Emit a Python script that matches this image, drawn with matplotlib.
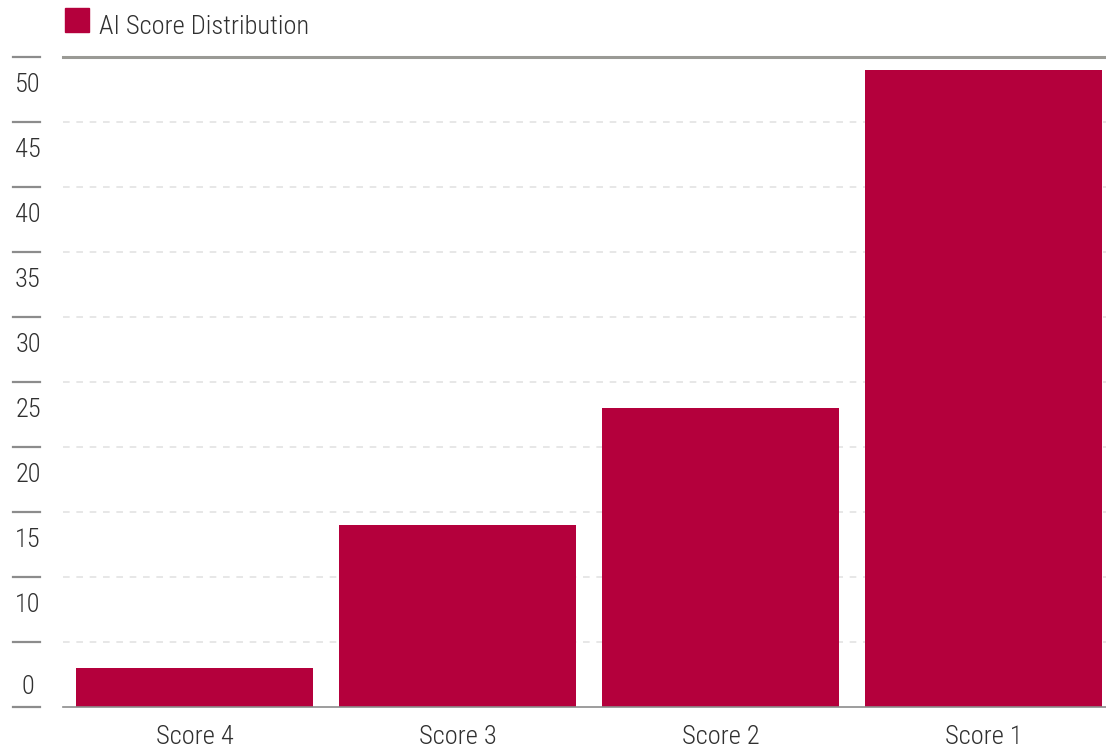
import matplotlib
matplotlib.use('Agg')
import matplotlib.pyplot as plt
from matplotlib.transforms import blended_transform_factory, offset_copy
from matplotlib import font_manager

categories = ['Score 4', 'Score 3', 'Score 2', 'Score 1']
values = [3, 14, 23, 49]
tick_values = [0, 5, 10, 15, 20, 25, 30, 35, 40, 45, 50]
label_values = [0, 10, 15, 20, 25, 30, 35, 40, 45, 50]
series_name = 'AI Score Distribution'

bar_color = '#B4003C'
text_color = '#303030'

# condensed light face, closest to the original look
names = {f.name for f in font_manager.fontManager.ttflist}
fam = 'DejaVu Sans'
for cand in ['Roboto Condensed', 'Barlow Condensed', 'Asap Condensed', 'Archivo Narrow']:
    if cand in names:
        fam = cand
        break
plt.rcParams['font.family'] = [fam, 'DejaVu Sans']
plt.rcParams['font.weight'] = 'light'
fs = 19

W, H = 1106, 751
fig = plt.figure(figsize=(W / 100, H / 100), dpi=100)
# axes: left 63px, right 1115px (slightly past the edge), top 57px, bottom 707px
ax = fig.add_axes([63 / W, 1 - 707 / H, (1115 - 63) / W, (707 - 57) / H])

x = range(len(categories))
ax.bar(x, values, width=0.9, color=bar_color, zorder=2)
ax.set_xlim(-0.5, len(categories) - 0.5)
ax.set_ylim(0, 50)

# dashed gridlines
for v in tick_values[1:-1]:
    ax.axhline(v, color='#e3e3e3', lw=1.2, ls=(0, (4, 4)), zorder=1)

for s in ['left', 'right']:
    ax.spines[s].set_visible(False)
ax.spines['top'].set_color('#9a9a95')
ax.spines['top'].set_linewidth(2.2)
ax.spines['bottom'].set_color('#8c8c8c')
ax.spines['bottom'].set_linewidth(1.2)
ax.spines['bottom'].set_zorder(3)

ax.set_yticks([])
ax.set_xticks(list(x))
ax.set_xticklabels(categories, fontsize=fs, color=text_color)
ax.tick_params(axis='x', length=0, pad=13)

# left side tick marks and labels
trans = blended_transform_factory(fig.transFigure, ax.transData)
for v in tick_values:
    ax.plot([13 / W, 40 / W], [v, v], transform=trans, color='#8c8c8c',
            lw=1.6, clip_on=False)
for v in label_values:
    dy = 20 if v == 0 else -28
    t = offset_copy(trans, fig=fig, x=0, y=dy * 0.72, units='points')
    ax.text(28 / W, v, str(v), transform=t, ha='center', va='center',
            fontsize=fs, color=text_color)

# legend
fig.patches.append(plt.Rectangle((65 / W, 1 - 32 / H), 24 / W, 24 / H,
                                 transform=fig.transFigure, color=bar_color))
fig.text(99 / W, 1 - 27 / H, series_name, ha='left', va='center',
         fontsize=fs, color=text_color)

fig.savefig('out.png', dpi=100)
